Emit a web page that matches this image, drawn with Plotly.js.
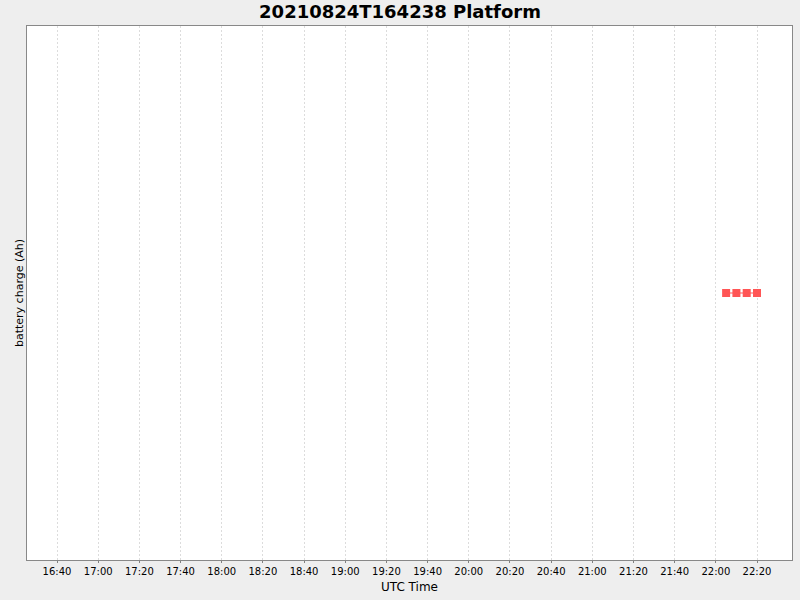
<!DOCTYPE html>
<html>
<head>
<meta charset="utf-8">
<script src="https://cdn.plot.ly/plotly-3.0.1.min.js"></script>
<style>
body { margin: 0; background: #eeeeee; }
#chart { width: 800px; height: 600px; }
</style>
</head>
<body>
<div id="chart"></div>
<script>
// battery readings
var times = ['2021-08-24 22:05:00', '2021-08-24 22:10:00', '2021-08-24 22:15:00', '2021-08-24 22:20:00'];
var charge = [120, 120, 120, 120];

var trace = {
    x: times,
    y: charge,
    type: 'scatter',
    mode: 'lines+markers',
    line: {color: '#ff5555', width: 1},
    marker: {color: '#ff5555', symbol: 'square', size: 8},
    hoverinfo: 'x+y'
};

var layout = {
    width: 800,
    height: 600,
    paper_bgcolor: '#eeeeee',
    plot_bgcolor: '#ffffff',
    font: {family: 'DejaVu Sans, sans-serif', size: 10, color: '#000000'},
    margin: {l: 27, r: 8, t: 26, b: 40},
    showlegend: false,
    title: {
        text: '<b>20210824T164238 Platform</b>',
        font: {size: 18, color: '#000000'},
        x: 0.5, xanchor: 'center',
        y: 0.98, yanchor: 'middle'
    },
    xaxis: {
        type: 'date',
        range: ['2021-08-24 16:25:25', '2021-08-24 22:37:00'],
        tickformat: '%H:%M',
        dtick: 20 * 60 * 1000,
        tick0: '2021-08-24 16:40:00',
        showgrid: true,
        gridcolor: '#dcdcdc',
        griddash: '2px,2px',
        gridwidth: 1,
        ticks: 'outside',
        ticklen: 2,
        tickcolor: '#808080',
        tickfont: {size: 10},
        showline: true,
        linecolor: '#888888',
        mirror: true,
        zeroline: false,
        title: {text: 'UTC Time', font: {size: 12}, standoff: 6}
    },
    yaxis: {
        range: [119, 121],
        showticklabels: false,
        showgrid: false,
        ticks: '',
        showline: true,
        linecolor: '#888888',
        mirror: true,
        zeroline: false,
        title: {text: 'battery charge (Ah)', font: {size: 11}, standoff: 0}
    }
};

Plotly.newPlot('chart', [trace], layout, {displayModeBar: false});
</script>
</body>
</html>
